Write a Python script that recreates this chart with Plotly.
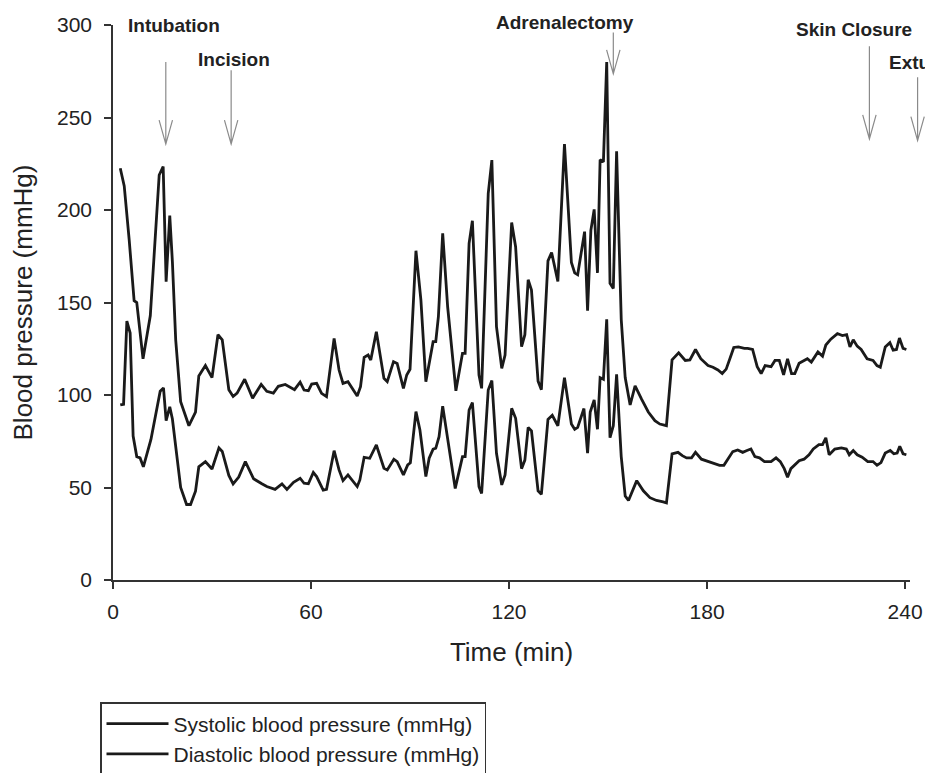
import plotly.graph_objects as go

# ---------------- data ----------------
time_sys = [2.2, 3.4, 4.9, 5.9, 6.4, 7.2, 9.1, 11.3, 14.0, 15.2, 16.1, 17.2, 18.0, 19.0, 20.5,
            23.0, 25.0, 26.0, 28.0, 30.0, 31.8, 33.1, 35.1, 36.4, 37.6, 39.9, 42.3, 44.9, 46.6,
            48.6, 50.1, 52.2, 55.0, 56.7, 57.9, 59.2, 60.2, 61.7, 63.2, 64.7, 67.0, 68.5, 69.7,
            71.2, 74.0, 75.0, 76.1, 77.3, 78.1, 79.8, 82.1, 83.1, 85.0, 86.1, 88.0, 89.0, 90.0,
            91.8, 93.3, 94.8, 96.0, 97.0, 97.8, 98.6, 99.9, 101.4, 103.9, 105.9, 106.7, 107.9,
            108.9, 110.9, 111.7, 113.7, 114.8, 116.2, 117.8, 118.8, 120.8, 122.0, 123.8, 124.8,
            125.8, 126.8, 128.8, 129.8, 131.8, 132.9, 134.8, 136.8, 138.9, 139.9, 140.8, 142.9,
            143.8, 144.8, 145.8, 146.8, 147.6, 148.6, 149.6, 150.6, 151.6, 152.6, 154.0, 155.2,
            156.7, 158.2, 160.2, 162.2, 164.2, 165.7, 167.7, 169.4, 171.4, 173.4, 174.8, 176.5,
            178.1, 180.3, 181.8, 183.3, 184.6, 185.8, 187.1, 188.1, 189.5, 191.3, 192.3, 193.8,
            195.2, 196.4, 197.6, 199.4, 200.6, 201.9, 203.2, 204.4, 205.6, 206.6, 207.9, 209.4,
            210.4, 211.6, 213.6, 215.0, 216.0, 217.5, 219.5, 221.0, 222.3, 223.3, 224.3, 225.5,
            226.7, 228.5, 230.3, 231.5, 232.5, 234.0, 235.4, 236.4, 237.4, 238.3, 239.4, 240.4]
sys_bp = [222.6, 213, 184, 161, 151, 150, 119.6, 142.8, 218.9, 223.5, 161.3, 197, 172, 129.8, 96.4,
          83.4, 90.8, 110.3, 115.9, 109.4, 132.6, 129.8, 102.9, 99.2, 101, 108.5, 98.3, 105.7, 102,
          101, 104.7, 105.7, 102.9, 107.0, 102.7, 102.3, 105.9, 106.3, 100.9, 99.1, 130.6, 113.5, 106.3,
          107.2, 99.5, 104.5, 120.4, 121.6, 118.9, 134.2, 109, 107.2, 118, 117.1, 103.6, 110.8, 113.9,
          178, 151.3, 107.2, 118.9, 128.8, 128.8, 142.3, 187.4, 147.7, 102.3, 122.5, 122.5, 182,
          194.2, 110.8, 103.6, 208.8, 227, 136.9, 114.4, 121.6, 193.2, 180, 126.1, 132.6,
          162.3, 156.7, 107.5, 102.9, 172.5, 177, 161.4, 235.6, 171.6, 166, 165, 188.3,
          145.6, 189, 200.3, 166, 227.2, 226, 280, 160.4, 157.6, 231.8, 140.9, 109.4,
          94.6, 104.9, 97.6, 90.8, 86.1, 84.3, 83.4, 119.0, 122.8, 118.7, 119, 124.6,
          119.6, 115.9, 115, 113.5, 111.6, 114, 120.5, 125.7, 126, 125.2, 125.2, 124.6,
          115.3, 111.6, 115.9, 115.3, 118.7, 118.7, 110.9, 119.6, 111.6, 111.6, 117.2, 118.7,
          119.6, 117.8, 123.3, 121, 127, 130.2, 133.2, 132.1, 132.6, 126, 129.8, 126.4,
          124.6, 119.6, 118.7, 115.9, 115, 126, 128.3, 124.2, 124.6, 130.8, 125.2, 124.6]

time_dia = [2.2, 3.2, 4.2, 5.2, 6.1, 7.2, 8.2, 9.2, 11.5, 14.3, 15.3, 16.1, 17.2, 18.0, 20.5,
            22.3, 23.5, 25.0, 26.0, 28.0, 30.0, 32.1, 33.1, 35.1, 36.4, 38.1, 40.1, 42.6, 45.1,
            46.6, 49.1, 51.2, 52.7, 54.7, 56.7, 57.9, 59.2, 60.7, 61.7, 63.7, 64.7, 67.0, 68.5,
            69.7, 71.2, 74.0, 74.8, 76.1, 77.8, 79.8, 82.1, 83.1, 85.1, 86.1, 88.0, 89.3, 90.1,
            91.8, 93.0, 94.8, 95.8, 97.0, 97.8, 98.8, 99.9, 101.4, 103.7, 105.9, 106.7, 107.9,
            108.9, 110.9, 111.7, 113.7, 114.8, 116.2, 117.8, 118.8, 120.8, 122.0, 123.8, 124.8,
            125.8, 126.8, 128.8, 129.8, 131.8, 133.1, 134.8, 136.8, 138.9, 139.9, 140.8, 142.7,
            143.8, 144.6, 145.8, 146.8, 147.6, 148.6, 149.6, 150.6, 151.6, 152.6, 154.0, 155.2,
            156.2, 158.7, 160.7, 162.7, 164.7, 166.7, 167.7, 169.4, 171.2, 172.5, 173.8, 175.3,
            176.5, 178.3, 180.3, 182.3, 183.8, 185.1, 186.3, 187.8, 189.3, 190.8, 192.1, 193.3,
            194.5, 195.9, 197.4, 199.4, 200.9, 202.2, 203.4, 204.4, 205.4, 206.9, 207.9, 209.4,
            210.9, 212.2, 213.9, 215.0, 216.0, 217.0, 218.7, 220.7, 222.2, 223.1, 224.3, 225.5,
            227.0, 228.7, 230.3, 231.5, 232.7, 234.0, 235.5, 236.6, 237.6, 238.4, 239.4, 240.4]
dia_bp = [94.6, 95, 140, 133.5, 77.8, 66.7, 66, 61.2, 76, 102, 103.8, 86.2, 93.6, 87, 50,
          40.8, 40.8, 48, 61.2, 64, 60, 71.4, 69.5, 56.5, 51.9, 55.6, 64, 54.7, 52,
          50.5, 49, 52, 49, 52.8, 55, 52.3, 52, 58.1, 55.9, 48.6, 49, 69.9, 59.5,
          53.7, 56.8, 50.5, 54.1, 66.3, 65.8, 73, 60.4, 59.5, 65.3, 64, 56.8, 62.2, 63.4,
          91, 81.1, 55.9, 65.8, 70.7, 71.2, 77.5, 94, 75.7, 49.5, 66.7, 66.7, 91.9,
          95.9, 50.5, 46.8, 102.7, 107.8, 68.5, 51.4, 56.8, 92.8, 87.4, 60.2, 64.8,
          82.5, 80.6, 48.2, 46.3, 86.8, 89, 83.4, 109.4, 84.3, 81.5, 82.5, 92.7,
          68.6, 90.8, 97.3, 81.5, 109.4, 108.5, 140.9, 76.9, 83.4, 111.2, 66.7, 45.4,
          43, 53.7, 48.2, 44.5, 43, 42.2, 41.7, 68.2, 69, 67.2, 66, 66,
          69, 65.3, 64, 63, 62, 62, 65.3, 69.4, 70.3, 69, 70, 70.8,
          66.7, 66, 64, 64, 66, 64, 60.2, 55.6, 60.2, 62.6, 64.5, 65.3,
          67.7, 70.8, 73.2, 73.2, 76.9, 67.7, 70.8, 71.4, 70.8, 67.7, 70, 67.7,
          66.4, 64, 64, 62, 63.5, 68.6, 70, 68.2, 68.6, 72.3, 68.2, 67.7]

series_names = ["Systolic blood pressure (mmHg)", "Diastolic blood pressure (mmHg)"]

event_names = ["Intubation", "Incision", "Adrenalectomy", "Skin Closure", "Extubation"]
event_times = [16.0, 35.8, 151.6, 229.2, 243.8]
arrow_tops = [280, 275.5, 296, 288.5, 271.8]
arrow_tips = [235.6, 235.6, 273.6, 238.4, 237.5]
label_times = [18.4, 36.6, 137.1, 224.6, 234.6]
label_levels = [299.6, 281.6, 301.5, 297.8, 279.7]
label_anchors = ["center", "center", "center", "center", "left"]

x_ticks = [0, 60, 120, 180, 240]
y_ticks = [0, 50, 100, 150, 200, 250, 300]

# ---------------- layout / style ----------------
X_MAX = 241.5
Y_MAX = 300
W, H = 925, 773
ML, MR, MT, MB = 113, 15, 25, 193
PW, PH = W - ML - MR, H - MT - MB
FONT = "Liberation Sans, Arial, sans-serif"
INK = "#222222"
ARROW = "#8a8a8a"
HEAD_HALF_W = 6.7 / PW   # paper units
HEAD_H = 24 / PH
LEGEND_LEFT_PX, LEGEND_TOP_PX = 100, 702


def px(t):
    return t / X_MAX


def py(v):
    return v / Y_MAX


fig = go.Figure()
for tx, vals, name in [(time_sys, sys_bp, series_names[0]), (time_dia, dia_bp, series_names[1])]:
    fig.add_trace(go.Scatter(x=tx, y=vals, mode="lines", name=name,
                             line=dict(color="#1a1a1a", width=2.8)))

shapes = []
annotations = []
for name, t, top, tip, lt, ll, anc in zip(event_names, event_times, arrow_tops, arrow_tips,
                                          label_times, label_levels, label_anchors):
    x0, yt, yb = px(t), py(top), py(tip)
    path = (f"M{x0},{yt} L{x0},{yb} "
            f"M{x0 - HEAD_HALF_W},{yb + HEAD_H} L{x0},{yb} L{x0 + HEAD_HALF_W},{yb + HEAD_H}")
    shapes.append(dict(type="path", xref="paper", yref="paper", path=path,
                       line=dict(color=ARROW, width=1.2)))
    annotations.append(dict(text=f"<b>{name}</b>", xref="paper", yref="paper",
                            x=px(lt), y=py(ll), xanchor=anc, yanchor="middle",
                            showarrow=False, font=dict(family=FONT, size=19, color=INK)))

fig.update_layout(
    width=W, height=H,
    margin=dict(l=ML, r=MR, t=MT, b=MB, autoexpand=False),
    paper_bgcolor="white", plot_bgcolor="white",
    font=dict(family=FONT, color=INK),
    shapes=shapes, annotations=annotations,
    showlegend=True,
    legend=dict(x=(LEGEND_LEFT_PX - ML) / PW, y=(H - MB - LEGEND_TOP_PX) / PH,
                xanchor="left", yanchor="top",
                bordercolor="#333333", borderwidth=1.5, bgcolor="white",
                font=dict(family=FONT, size=21, color=INK), itemwidth=62,
                tracegroupgap=0),
)
fig.update_xaxes(range=[0, X_MAX], tickvals=x_ticks, ticks="outside", ticklen=7, tickwidth=1.5,
                 tickcolor="#333333", showline=True, linecolor="#333333", linewidth=1.5,
                 showgrid=False, zeroline=False, tickfont=dict(size=21, family=FONT, color=INK),
                 ticklabelstandoff=5, ticklabeloverflow="allow",
                 title=dict(text="Time (min)", font=dict(size=26, family=FONT, color=INK), standoff=21))
fig.update_yaxes(range=[0, Y_MAX], tickvals=y_ticks, ticks="outside", ticklen=7, tickwidth=1.5,
                 tickcolor="#333333", showline=True, linecolor="#333333", linewidth=1.5,
                 showgrid=False, zeroline=False, tickfont=dict(size=21, family=FONT, color=INK),
                 ticklabelstandoff=8,
                 title=dict(text="Blood pressure (mmHg)", font=dict(size=26, family=FONT, color=INK),
                            standoff=17))

fig.write_html("out.html", config={"displayModeBar": False},
               post_script="document.body.style.margin='0';")
